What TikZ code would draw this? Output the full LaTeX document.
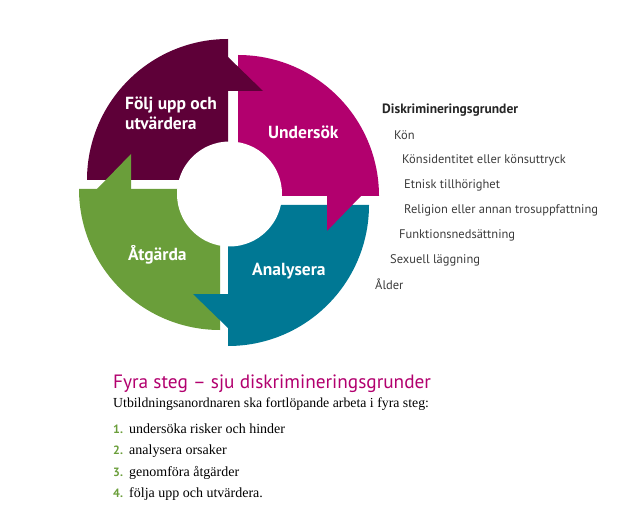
\documentclass[tikz,border=0pt]{standalone}
\usepackage{fontspec}
\setmainfont{Liberation Serif}
\newfontfamily\ptsans{PT Sans}
\usetikzlibrary{calc}

\definecolor{plommon}{RGB}{94,0,56}
\definecolor{cerise}{RGB}{178,0,110}
\definecolor{petrol}{RGB}{0,120,148}
\definecolor{gras}{RGB}{106,158,58}
\definecolor{textgra}{RGB}{60,60,60}

\begin{document}
\begin{tikzpicture}[x=1pt, y=-1pt,
    ringtext/.style={text=white, inner sep=0pt, anchor=base west,
        font={\ptsans\bfseries\fontsize{17.5}{20}\selectfont}},
    grund/.style={text=textgra, inner sep=0pt, anchor=base west,
        font={\ptsans\fontsize{12.5}{14}\selectfont}},
    steg/.style={inner sep=0pt, anchor=base west,
        font={\fontsize{14}{16}\selectfont}},
    nr/.style={text=gras, inner sep=0pt, anchor=base west,
        font={\ptsans\bfseries\fontsize{12}{14}\selectfont}}]

    \useasboundingbox (0,0) rectangle (628,510);

    % 定义关键坐标
    \coordinate (H) at (229.5,194);   % 中间圆心
    \coordinate (P) at (228,180);     % 左上角
    \coordinate (M) at (238,196);     % 右上角
    \coordinate (T) at (228,205);     % 右下角
    \coordinate (G) at (220,189);     % 左下角

    % 四个扇形
    \fill[plommon] (P) -- ++(-141,0) arc[start angle=180, end angle=270, radius=141] -- cycle;
    \fill[cerise]  (M) -- ++(0,-141) arc[start angle=270, end angle=360, radius=141] -- cycle;
    \fill[petrol]  (T) -- ++(141,0)  arc[start angle=0,   end angle=90,  radius=141] -- cycle;
    \fill[gras]    (G) -- ++(0,141)  arc[start angle=90,  end angle=180, radius=141] -- cycle;
    % 中间白圆
    \fill[white] (H) circle (52.5);

    % 箭头
    \fill[plommon] ($(P)+(0,-123)$) -- ($(P)+(35,-89)$) -- ($(P)+(0,-89)$) -- cycle;
    \fill[cerise]  ($(M)+(123,0)$)  -- ($(M)+(89,35)$)  -- ($(M)+(89,0)$)  -- cycle;
    \fill[petrol]  ($(T)+(0,123)$)  -- ($(T)+(-35,89)$) -- ($(T)+(0,89)$)  -- cycle;
    \fill[gras]    ($(G)+(-123,0)$) -- ($(G)+(-89,-35)$) -- ($(G)+(-89,0)$) -- cycle;

    % 扇形文字
    \node[ringtext, align=left] (folj) at (125,130) {Följ upp och\\utvärdera};
    \node[ringtext] (unders) at (268,139) {Undersök};
    \node[ringtext] (analys) at (252,276) {Analysera};
    \node[ringtext] (atgard) at (128,261) {Åtgärda};

    % 歧视理由
    \node[grund, text=black!85, font={\ptsans\bfseries\fontsize{13.5}{14}\selectfont}]
        (kopf) at (382,114) {Diskrimineringsgrunder};
    \node[grund] (kon)     at (394,140) {Kön};
    \node[grund] (konsid)  at (402,164) {Könsidentitet eller könsuttryck};
    \node[grund] (etnisk)  at (404,189) {Etnisk tillhörighet};
    \node[grund] (relig)   at (404,214) {Religion eller annan trosuppfattning};
    \node[grund] (funk)    at (399,239) {Funktionsnedsättning};
    \node[grund] (sexuell) at (390,264) {Sexuell läggning};
    \node[grund] (alder)   at (375,289) {Ålder};

    % 下方文字
    \node[inner sep=0pt, anchor=base west, text=cerise,
        font={\ptsans\fontsize{19.3}{22}\selectfont}]
        (titel) at (113,388) {Fyra steg – sju diskrimineringsgrunder};
    \node[steg, font={\fontsize{13.8}{16}\selectfont}] (intro) at (113,407)
        {Utbildningsanordnaren ska fortlöpande arbeta i fyra steg:};
    \node[nr] (n1) at (113,433) {1.};
    \node[nr] (n2) at (113,454) {2.};
    \node[nr] (n3) at (113,476) {3.};
    \node[nr] (n4) at (113,497) {4.};
    \node[steg] (s1) at (129,433) {undersöka risker och hinder};
    \node[steg] (s2) at (129,454) {analysera orsaker};
    \node[steg] (s3) at (129,476) {genomföra åtgärder};
    \node[steg] (s4) at (129,497) {följa upp och utvärdera.};

\end{tikzpicture}
\end{document}
